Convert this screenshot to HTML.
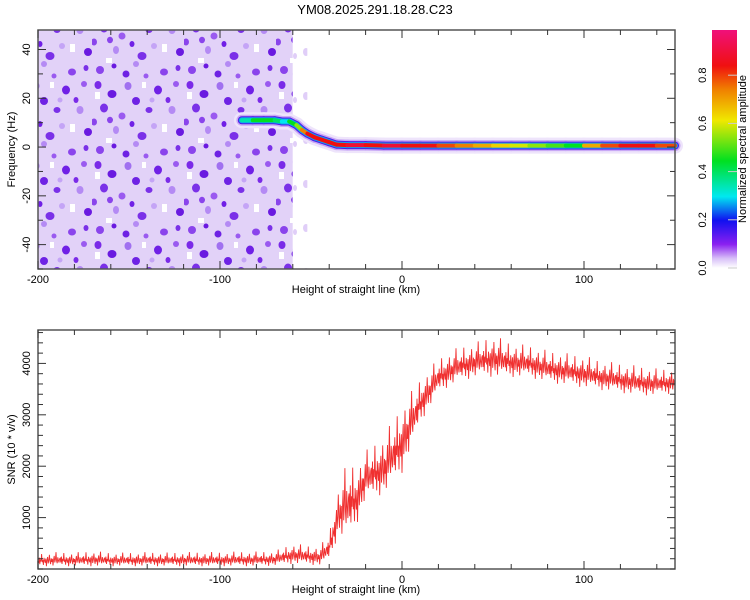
<!DOCTYPE html>
<html><head><meta charset="utf-8"><style>
body{margin:0;background:#fff;}
svg{display:block;font-family:"Liberation Sans",sans-serif;}
</style></head><body>
<svg id="c" width="750" height="600">
<defs>
<pattern id="noise" width="92" height="80" patternUnits="userSpaceOnUse">
<rect width="92" height="80" fill="#e2d2f8"/>
<rect x="3" y="12" width="5" height="7" fill="#fff"/><rect x="50" y="2" width="4" height="6" fill="#fff"/>
<rect x="70" y="44" width="5" height="8" fill="#fff"/><rect x="14" y="58" width="6" height="5" fill="#fff"/>
<ellipse cx="6" cy="5" rx="3.5" ry="4" fill="#7a2ae8"/><ellipse cx="20" cy="14" rx="4.5" ry="4" fill="#6a1ae0"/>
<ellipse cx="36" cy="6" rx="3.5" ry="4" fill="#a070f0"/><ellipse cx="12" cy="28" rx="4" ry="4.5" fill="#7a30e8"/>
<ellipse cx="44" cy="21" rx="4" ry="4" fill="#6e22e4"/><ellipse cx="30" cy="36" rx="3.5" ry="3.5" fill="#9a5af0"/>
<ellipse cx="2" cy="42" rx="3" ry="3.5" fill="#8a44ec"/><ellipse cx="57" cy="30" rx="3.5" ry="3" fill="#7a30e8"/>
<ellipse cx="66" cy="10" rx="4" ry="4.5" fill="#7020e6"/><ellipse cx="80" cy="30" rx="3.5" ry="4" fill="#b48af4"/>
<ellipse cx="88" cy="52" rx="4" ry="4" fill="#6a1ae0"/><ellipse cx="50" cy="56" rx="4.5" ry="4" fill="#7a30e8"/>
<ellipse cx="24" cy="50" rx="3" ry="4" fill="#b48af4"/><ellipse cx="8" cy="70" rx="4" ry="4" fill="#8a44ec"/>
<ellipse cx="34" cy="74" rx="3.5" ry="3.5" fill="#6e22e4"/><ellipse cx="72" cy="72" rx="4" ry="3.5" fill="#8a44ec"/>
<ellipse cx="62" cy="46" rx="3" ry="3" fill="#c4a4f6"/><ellipse cx="18" cy="40" rx="3" ry="3.2" fill="#8a44ec"/>
<ellipse cx="84" cy="4" rx="3" ry="3" fill="#9a5af0"/><ellipse cx="44" cy="64" rx="3" ry="3" fill="#b48af4"/>
<ellipse cx="76" cy="20" rx="2.5" ry="3" fill="#7a2ae8"/><ellipse cx="40" cy="44" rx="2.5" ry="3" fill="#7020e6"/>
<ellipse cx="60" cy="20" rx="2.5" ry="2.5" fill="#c4a4f6"/><ellipse cx="86" cy="68" rx="2.5" ry="3" fill="#7a30e8"/>
<ellipse cx="22" cy="66" rx="2.5" ry="2.5" fill="#6a1ae0"/><ellipse cx="54" cy="76" rx="2.5" ry="2.5" fill="#9a5af0"/>
</pattern>
<pattern id="noise2" width="30" height="44" patternUnits="userSpaceOnUse">
<rect width="30" height="44" fill="#fff"/>
<ellipse cx="6" cy="8" rx="3" ry="4" fill="#e0cef8"/><ellipse cx="20" cy="30" rx="3" ry="3" fill="#e6d8fa"/>
<ellipse cx="12" cy="20" rx="2" ry="2.5" fill="#9a5af0"/><ellipse cx="25" cy="12" rx="2" ry="3" fill="#e0cef8"/>
</pattern>
<linearGradient id="cbar" x1="0" y1="1" x2="0" y2="0">
<stop offset="0" stop-color="#fff"/><stop offset="0.04" stop-color="#d8c0f8"/><stop offset="0.1" stop-color="#8a20f0"/>
<stop offset="0.2" stop-color="#1010f0"/><stop offset="0.3" stop-color="#00e8f0"/><stop offset="0.45" stop-color="#00e020"/>
<stop offset="0.62" stop-color="#f0e800"/><stop offset="0.75" stop-color="#f08000"/><stop offset="0.85" stop-color="#f01010"/>
<stop offset="1" stop-color="#f0107a"/>
</linearGradient>
</defs>
<text x="375" y="14" text-anchor="middle" font-size="13">YM08.2025.291.18.28.C23</text>
<g id="topPanel"></g>
<g id="botPanel"></g>
<g id="cbPanel"></g>
</svg>
<script>
// ridge track: height (km), frequency (Hz), normalized amplitude
const ridgeX = [-88,-82,-76,-70,-66,-62,-58,-55,-52,-48,-44,-40,-36,-30,-20,-10,0,10,20,30,40,50,60,70,80,90,100,110,120,130,140,150];
const ridgeF = [11,11,11,11,10.5,10.5,9,7,5.5,4,3,2,1,0.8,0.8,0.6,0.6,0.6,0.6,0.6,0.6,0.6,0.6,0.6,0.6,0.6,0.6,0.6,0.6,0.6,0.6,0.6];
const ridgeA = [0.35,0.45,0.45,0.4,0.3,0.45,0.55,0.75,0.85,0.85,0.85,0.85,0.85,0.9,0.85,0.9,0.85,0.85,0.8,0.75,0.7,0.65,0.6,0.55,0.5,0.45,0.7,0.8,0.85,0.85,0.8,0.75];
// SNR envelope
const snrX  = [-200,-190,-180,-170,-160,-150,-140,-130,-120,-110,-100,-90,-80,-70,-60,-50,-45,-40,-35,-30,-25,-20,-10,0,10,20,30,40,50,60,70,80,90,100,110,120,130,140,150];
const snrLo = [40,40,40,40,40,40,40,40,40,40,40,40,40,50,80,60,50,150,600,500,800,1300,1400,1800,2800,3400,3600,3700,3700,3700,3700,3600,3550,3500,3450,3400,3350,3350,3400];
const snrHi = [300,330,320,350,320,320,330,320,330,330,330,340,340,350,500,450,450,700,1600,2100,2000,2300,2600,3200,3700,4100,4300,4400,4550,4400,4350,4250,4200,4150,4050,4000,3950,3900,3900];
const xTicks = [-200,-100,0,100];
const fTicks = [-40,-20,0,20,40];
const sTicks = [1000,2000,3000,4000];
const cTicks = [0,0.2,0.4,0.6,0.8];

const NS="http://www.w3.org/2000/svg";
function mk(p,t,a){const el=document.createElementNS(NS,t);for(const k in a)el.setAttribute(k,a[k]);p.appendChild(el);return el;}
const L=38,R=675;
const X=v=>L+(v+200)/350*(R-L);
const T0=30,T1=269,B0=330,B1=569;
const F=v=>T0+(48-v)/98*(T1-T0);
const S=v=>B1-(v)/4650*(B1-B0);
function col(a){const st=[[0,[255,255,255]],[0.04,[216,192,248]],[0.1,[138,32,240]],[0.2,[16,16,240]],[0.3,[0,232,240]],[0.45,[0,224,32]],[0.62,[240,232,0]],[0.75,[240,128,0]],[0.85,[240,16,16]],[1,[240,16,122]]];
 for(let i=1;i<st.length;i++){if(a<=st[i][0]){const t=(a-st[i-1][0])/(st[i][0]-st[i-1][0]);const c=st[i-1][1].map((v,j)=>Math.round(v+(st[i][1][j]-v)*t));return 'rgb('+c.join(',')+')';}}return 'rgb(240,16,122)';}

// TOP
const topG=document.getElementById('topPanel');
let el0=mk(topG,'rect',{x:L,y:T0,width:X(-60)-L,height:T1-T0,fill:'url(#noise)'});


el0=mk(topG,'rect',{x:X(-60),y:T0,width:X(-52)-X(-60),height:T1-T0,fill:'url(#noise2)'});


const widths=[[16,'#eee4fb',0],[11,'#c8a8f6',0],[8,'#5018e8',0],[6,'#10a0f0',0],[4,null,1]];
widths.forEach(([w,c,useA])=>{
 for(let i=0;i<ridgeX.length-1;i++){
  const s=mk(topG,'line',{x1:X(ridgeX[i]),y1:F(ridgeF[i]),x2:X(ridgeX[i+1]),y2:F(ridgeF[i+1]),stroke:useA?col(ridgeA[i]):c,'stroke-width':w,'stroke-linecap':'round'});
  
  
 }
});
function frame(g,y0,y1,minX,yMaj,yMin,Y){
 mk(g,'rect',{x:L,y:y0,width:R-L,height:y1-y0,fill:'none',stroke:'#555','stroke-width':1.5});
 for(let v=-200;v<=150;v+=minX){const big=xTicks.includes(v);const l=big?8:5;
  mk(g,'line',{x1:X(v),y1:y0,x2:X(v),y2:y0+l,stroke:'#333'});mk(g,'line',{x1:X(v),y1:y1,x2:X(v),y2:y1-l,stroke:'#333'});}
 yMin.forEach(v=>{const big=yMaj.includes(v);const l=big?8:5;
  mk(g,'line',{x1:L,y1:Y(v),x2:L+l,y2:Y(v),stroke:'#333'});mk(g,'line',{x1:R,y1:Y(v),x2:R-l,y2:Y(v),stroke:'#333'});});
 xTicks.forEach(v=>{const tx=mk(g,'text',{x:X(v),y:y1+14,'text-anchor':'middle','font-size':11});tx.textContent=v;
  
  });
 const ttl=mk(g,'text',{x:356,y:y1+24,'text-anchor':'middle','font-size':11});ttl.textContent='Height of straight line (km)';
 
 
}
const fMin=[];for(let v=-50;v<=48;v+=10)fMin.push(v);
frame(topG,T0,T1,20,fTicks,fMin,F);
fTicks.forEach(v=>{const tx=mk(topG,'text',{x:0,y:0,'text-anchor':'middle','font-size':11,transform:'translate(30,'+F(v)+') rotate(-90)'});tx.textContent=v;
 
 });
el0=mk(topG,'text',{x:0,y:0,'text-anchor':'middle','font-size':11,transform:'translate(15,'+((T0+T1)/2)+') rotate(-90)'});el0.textContent='Frequency (Hz)';



// BOTTOM
const botG=document.getElementById('botPanel');
function interp(arr,x){for(let i=1;i<snrX.length;i++){if(x<=snrX[i]){const t=(x-snrX[i-1])/(snrX[i]-snrX[i-1]);return arr[i-1]+(arr[i]-arr[i-1])*t;}}return arr[arr.length-1];}
const zig=[0.6,0.3,0.7,0.2,0.55,0.4,0.95,0.35,0.5,0.15,0.65,0.45,0.3,0.6,0.05,0.5,0.7,0.25,0.45,0.85,0.4,0.2,0.6,0.35,0.55,0.1,0.5,0.75,0.3,0.5,1,0.4,0.25,0.65,0.45,0.3,0.55];
let d='';let k=0;
for(let x=-200;x<=150;x+=0.33){const lo=interp(snrLo,x),hi=interp(snrHi,x);const v=lo+(hi-lo)*zig[k%zig.length];
 d+=(k?'L':'M')+X(x).toFixed(1)+' '+S(v).toFixed(1);k++;}
el0=mk(botG,'path',{d:d,fill:'none',stroke:'#f03030','stroke-width':0.9});


const sMin=[];for(let v=0;v<=4600;v+=200)sMin.push(v);
frame(botG,B0,B1,20,sTicks,sMin,S);
sTicks.forEach(v=>{const tx=mk(botG,'text',{x:0,y:0,'text-anchor':'middle','font-size':11,transform:'translate(30,'+S(v)+') rotate(-90)'});tx.textContent=v;
 
 });
el0=mk(botG,'text',{x:0,y:0,'text-anchor':'middle','font-size':11,transform:'translate(15,'+((B0+B1)/2)+') rotate(-90)'});el0.textContent='SNR (10 * v/v)';



// COLORBAR
const cbG=document.getElementById('cbPanel');
const C=v=>268-v*241;
mk(cbG,'rect',{x:712,y:30,width:25,height:238,fill:'url(#cbar)'});
cTicks.forEach(v=>{mk(cbG,'line',{x1:728,y1:C(v),x2:737,y2:C(v),stroke:'#ccc'});
 const tx=mk(cbG,'text',{x:0,y:0,'text-anchor':'middle','font-size':11,transform:'translate(706,'+C(v)+') rotate(-90)'});tx.textContent=v.toFixed(1);
 
 });
el0=mk(cbG,'text',{x:0,y:0,'text-anchor':'middle','font-size':11,transform:'translate(746,149) rotate(-90)'});el0.textContent='Normalized spectral amplitude';


</script>
</body></html>
